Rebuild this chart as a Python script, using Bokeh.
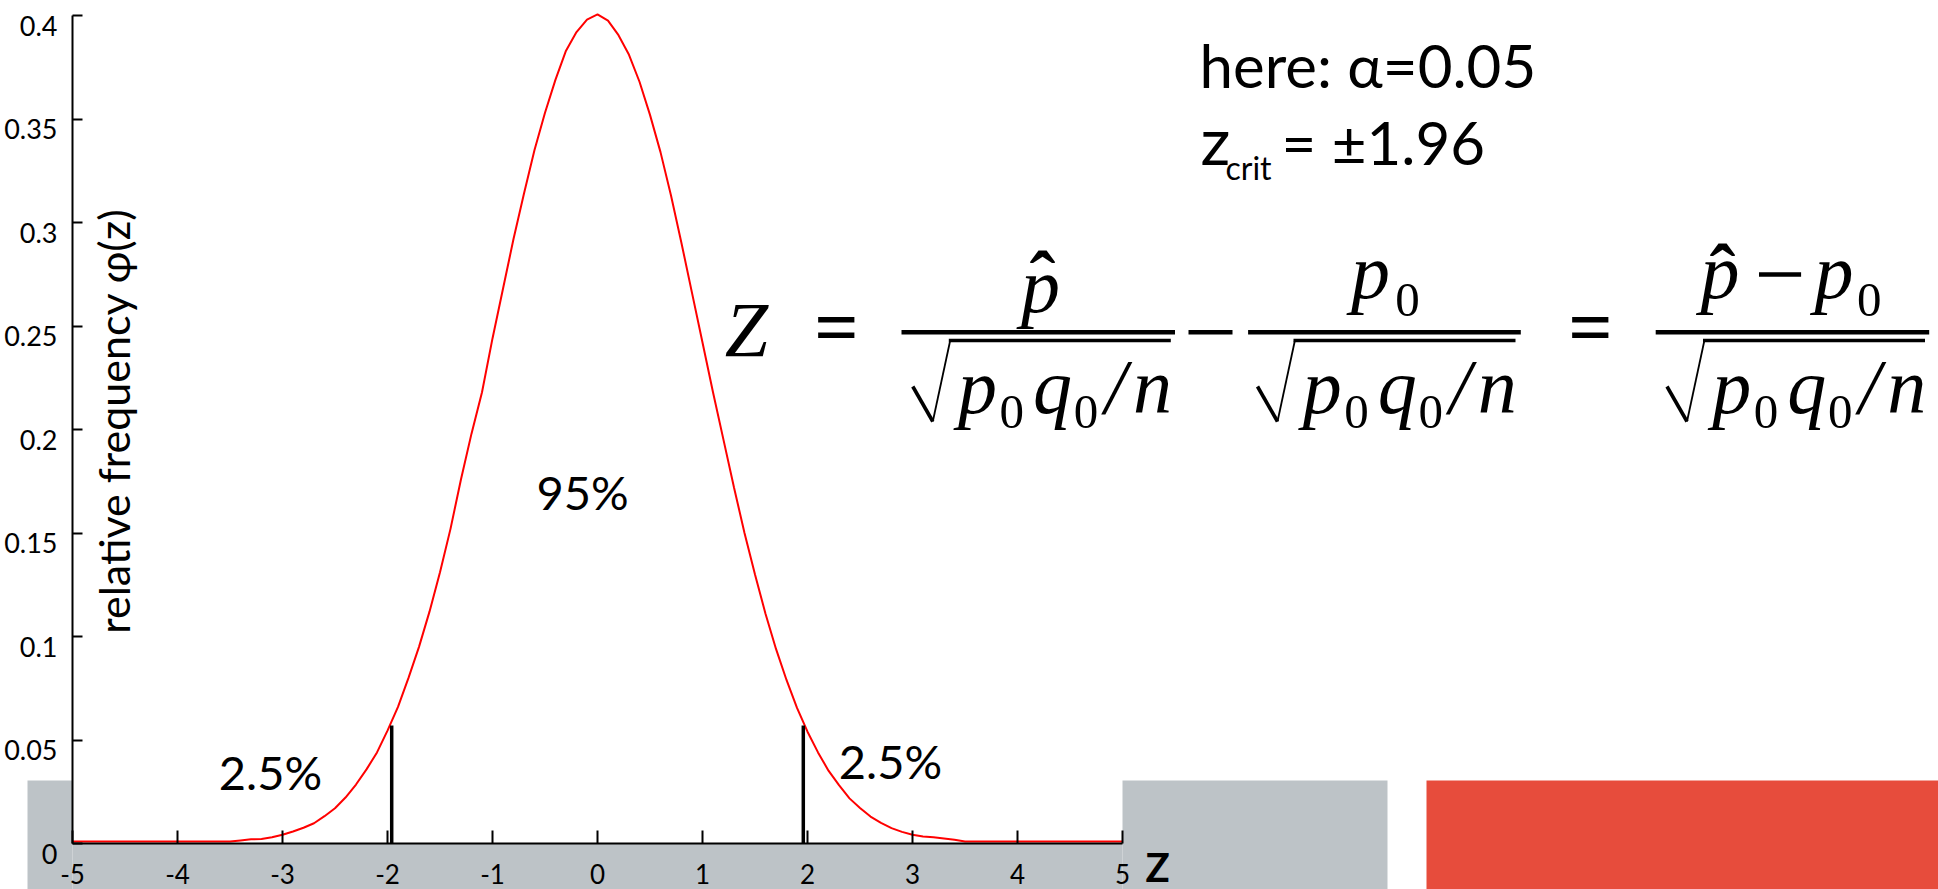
from math import hypot, pi

from bokeh.embed import file_html
from bokeh.models import (BoxAnnotation, FixedTicker, Label, LinearAxis,
                          PolyAnnotation, Range1d)
from bokeh.plotting import figure
from bokeh.resources import INLINE

# ---- data -------------------------------------------------------------
# sampled standard-normal density (relative frequency of z)
z_vals = [-5.0, -3.5, -3.4, -3.3, -3.2, -3.1, -3.0, -2.9, -2.8, -2.7, -2.6,
          -2.5, -2.4, -2.3, -2.2, -2.1, -2.0, -1.9, -1.8, -1.7, -1.6, -1.5,
          -1.4, -1.3, -1.2, -1.1, -1.0, -0.9, -0.8, -0.7, -0.6, -0.5, -0.4,
          -0.3, -0.2, -0.1, 0.0, 0.1, 0.2, 0.3, 0.4, 0.5, 0.6, 0.7, 0.8, 0.9,
          1.0, 1.1, 1.2, 1.3, 1.4, 1.5, 1.6, 1.7, 1.8, 1.9, 2.0, 2.1, 2.2,
          2.3, 2.4, 2.5, 2.6, 2.7, 2.8, 2.9, 3.0, 3.1, 3.2, 3.3, 3.4, 3.5, 5.0]
phi_vals = [0.0010, 0.0010, 0.0015, 0.0020, 0.0022, 0.0030, 0.0042, 0.0058,
            0.0076, 0.0098, 0.0132, 0.0170, 0.0222, 0.0285, 0.0358, 0.0440,
            0.0545, 0.0660, 0.0800, 0.0950, 0.1120, 0.1310, 0.1520, 0.1760,
            0.1980, 0.2180, 0.2440, 0.2680, 0.2920, 0.3140, 0.3350, 0.3530,
            0.3690, 0.3830, 0.3920, 0.3980, 0.4005, 0.3975, 0.3905, 0.3810,
            0.3680, 0.3520, 0.3340, 0.3130, 0.2900, 0.2660, 0.2420, 0.2180,
            0.1950, 0.1720, 0.1500, 0.1300, 0.1110, 0.0940, 0.0790, 0.0655,
            0.0540, 0.0440, 0.0352, 0.0282, 0.0218, 0.0172, 0.0130, 0.0100,
            0.0074, 0.0056, 0.0042, 0.0034, 0.0030, 0.0024, 0.0018, 0.0010,
            0.0010]

# critical values for alpha = 0.05 and the marker height at each
z_crit = [-1.96, 1.96]
crit_height = [0.057, 0.057]

# share of the distribution in each region
region_labels = ["2.5%", "95%", "2.5%"]

x_ticks = [-5, -4, -3, -2, -1, 0, 1, 2, 3, 4, 5]
x_tick_labels = ["-5", "-4", "-3", "-2", "-1", "0", "1", "2", "3", "4", "5"]
y_ticks = [0, 0.05, 0.1, 0.15, 0.2, 0.25, 0.3, 0.35, 0.4]
y_tick_labels = ["0", "0.05", "0.1", "0.15", "0.2", "0.25", "0.3", "0.35", "0.4"]

# ---- layout -----------------------------------------------------------
W, H = 1938, 889
# pixel positions of the axes: z=-5..5 spans AX_L..AX_R, phi=0..0.4 spans AX_B..AX_T
AX_L, AX_R, AX_T, AX_B = 72, 1122, 15, 843
X_LO, X_HI, Y_LO, Y_HI = -5, 5, 0, 0.4

GRAY = "#bdc3c7"
RED_BLOCK = "#e74c3c"
MATH = "Liberation Serif"
SANS = "Lato"


def sx(px):
    """Page pixel column -> z value."""
    return X_LO + (px - AX_L) / (AX_R - AX_L) * (X_HI - X_LO)


def sy(py):
    """Page pixel row -> density value."""
    return Y_LO + (AX_B - py) / (AX_B - AX_T) * (Y_HI - Y_LO)


# the frame fills the whole page; the axes sit at fixed data locations
p = figure(width=W, height=H, output_backend="svg", toolbar_location=None,
           x_range=Range1d(sx(0), sx(W)), y_range=Range1d(sy(H), sy(0)),
           min_border=0)
p.title.visible = False
p.outline_line_color = None
p.grid.visible = False
p.background_fill_color = "white"
p.border_fill_color = "white"

xa = p.xaxis[0]
ya = p.yaxis[0]
for ax in (xa, ya):
    ax.axis_line_width = 2
    ax.axis_line_color = "black"
    ax.major_tick_line_width = 2
    ax.major_tick_line_color = "black"
    ax.major_tick_out = 0
    ax.minor_tick_line_color = None
    ax.major_label_text_font = SANS
    ax.major_label_text_color = "black"

xa.fixed_location = 0
xa.bounds = (X_LO, X_HI)
xa.ticker = FixedTicker(ticks=x_ticks)
xa.major_label_overrides = dict(zip(x_ticks, x_tick_labels))
xa.major_label_text_font_size = "26px"
xa.major_tick_in = 13
xa.major_label_standoff = 20

ya.fixed_location = X_LO
ya.bounds = (Y_LO, Y_HI)
ya.ticker = FixedTicker(ticks=y_ticks)
ya.major_tick_in = 10
ya.major_label_text_color = None

# y tick labels hang just below their ticks
label_drop = (Y_HI - Y_LO) * 10 / (AX_B - AX_T)
label_pos = [round(t - label_drop, 6) for t in y_ticks]
ylab = LinearAxis(fixed_location=X_LO, bounds=(Y_LO - 2 * label_drop, Y_HI),
                  ticker=FixedTicker(ticks=label_pos),
                  major_label_overrides=dict(zip(label_pos, y_tick_labels)),
                  axis_line_color=None, major_tick_line_color=None,
                  minor_tick_line_color=None, major_label_standoff=9,
                  major_label_text_font=SANS, major_label_text_font_size="27px",
                  major_label_text_color="black")
p.add_layout(ylab, "left")

# footer blocks
for l, r, t, b, c in [(27, AX_L, 780, H + 5, GRAY),
                      (AX_L, AX_R, AX_B, H + 5, GRAY),
                      (AX_R, 1387, 780, H + 5, GRAY),
                      (1426, W + 5, 780, H + 5, RED_BLOCK)]:
    p.add_layout(BoxAnnotation(left=sx(l), right=sx(r), top=sy(t), bottom=sy(b),
                               fill_color=c, fill_alpha=1, line_color=None,
                               level="underlay"))

# density curve and critical value markers
p.line(z_vals, phi_vals, line_color="#ff0000", line_width=2)
p.segment(x0=z_crit, y0=[0, 0], x1=z_crit, y1=crit_height,
          line_color="black", line_width=3.5)

# Label anchors sit a little above the glyph baseline; offset per font (em)
BASE_SHIFT = {SANS: 0.40, MATH: 0.33}


def text(px, base, s, size, font=SANS, style="normal", align="center",
         baseline="alphabetic", angle=0.0):
    py = base - BASE_SHIFT[font] * size if baseline == "alphabetic" else base
    p.add_layout(Label(x=sx(px), y=sy(py), text=s, text_font=font,
                       text_font_size=f"{size}px", text_font_style=style,
                       text_align=align, text_baseline=baseline,
                       text_color="black", angle=angle))


def bar(l, r, t, b):
    p.add_layout(BoxAnnotation(left=sx(l), right=sx(r), top=sy(t), bottom=sy(b),
                               fill_color="black", fill_alpha=1, line_color=None,
                               level="overlay"))


def stroke(x0, y0, x1, y1, w):
    """A straight pen stroke of width w between two page points."""
    dx, dy = x1 - x0, y1 - y0
    n = hypot(dx, dy)
    ox, oy = -dy / n * w / 2, dx / n * w / 2
    pts = [(x0 + ox, y0 + oy), (x1 + ox, y1 + oy),
           (x1 - ox, y1 - oy), (x0 - ox, y0 - oy)]
    p.add_layout(PolyAnnotation(xs=[sx(a) for a, _ in pts],
                                ys=[sy(b) for _, b in pts],
                                fill_color="black", fill_alpha=1,
                                line_color=None, level="overlay"))


# region shares
text(270, 790, region_labels[0], 47)
text(582, 510, region_labels[1], 47)
text(890, 779, region_labels[2], 47)

# axis titles
text(113, 415, "relative frequency  φ(z)", 43, baseline="middle", angle=pi / 2)
text(1157, 882, "Z", 40, style="bold")

# alpha and critical value
text(1199, 88, "here: α=0.05", 60, align="left")
text(1200, 165, "z", 66, align="left")
text(1225, 180, "crit", 32, align="left")
text(1281, 165, "= ±1.96", 60, align="left")

# test statistic formula
BIG, SUB = 78, 49


def denominator(o):
    """sqrt(p0 q0 / n) with the radical's overline starting at column o."""
    stroke(o - 36, 386, o - 16, 421, 3.6)
    stroke(o - 16, 421, o + 1.5, 339.5, 1.8)
    bar(o, o + 222, 338.3, 341.7)
    text(o + 28.7, 412, "p", BIG, font=MATH, style="italic")
    text(o + 62.9, 428, "0", SUB, font=MATH)
    text(o + 103.7, 412, "q", BIG, font=MATH, style="italic")
    text(o + 137.2, 428, "0", SUB, font=MATH)
    text(o + 166.7, 412, "/", BIG, font=MATH, style="italic")
    text(o + 203.7, 412, "n", BIG, font=MATH, style="italic")


text(746, 355, "Z", BIG, font=MATH, style="italic")
text(836, 352, "=", BIG, font=MATH, style="bold")

# first fraction: p-hat over the standard error
bar(901, 1174.5, 329.5, 334)
text(1040, 311, "p", BIG, font=MATH, style="italic")
text(1042, 305, "ˆ", BIG, font=MATH, style="bold")
denominator(948.3)

# minus sign between the two fractions
bar(1188, 1232, 329.5, 334)

# second fraction: p0 over the standard error
bar(1247.6, 1520.3, 329.5, 334)
text(1370, 297, "p", BIG, font=MATH, style="italic")
text(1407, 316, "0", SUB, font=MATH)
denominator(1293)

text(1590, 352, "=", BIG, font=MATH, style="bold")

# combined fraction
bar(1655.2, 1928.7, 329.5, 334)
text(1719.5, 297, "p", BIG, font=MATH, style="italic")
text(1722, 298, "ˆ", BIG, font=MATH, style="bold")
bar(1758.5, 1800.6, 271.7, 276.2)
text(1833.6, 297, "p", BIG, font=MATH, style="italic")
text(1868.7, 316, "0", SUB, font=MATH)
denominator(1702.5)

open("out.html", "w").write(file_html(p, INLINE))
